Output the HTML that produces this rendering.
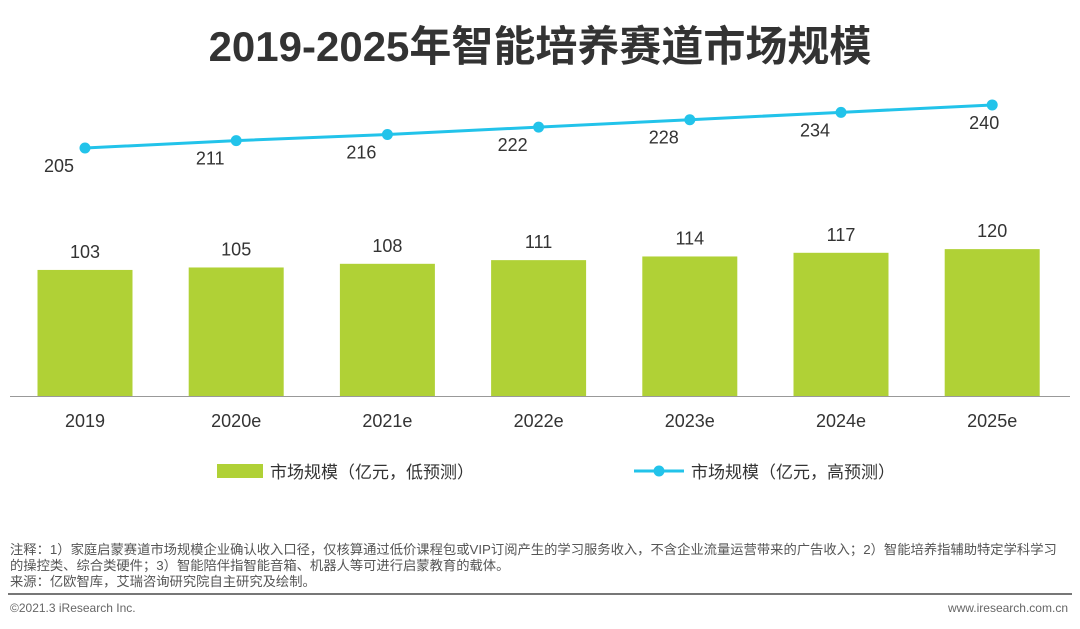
<!DOCTYPE html>
<html><head><meta charset="utf-8"><style>
body{margin:0;width:1080px;height:629px;background:#fff;font-family:"Liberation Sans","Noto Sans CJK SC",sans-serif;overflow:hidden;position:relative}
.t{position:absolute;white-space:nowrap}
</style></head><body>
<div class="t" style="left:0;width:1080px;text-align:center;top:13px;font-size:42px;font-weight:bold;color:#333">2019-2025年智能培养赛道市场规模</div>
<svg id="c" width="1080" height="500" style="position:absolute;left:0;top:0"></svg>
<div class="t" style="left:10px;top:542px;font-size:13.3px;line-height:16px;color:#555">注释：1）家庭启蒙赛道市场规模企业确认收入口径，仅核算通过低价课程包或VIP订阅产生的学习服务收入，不含企业流量运营带来的广告收入；2）智能培养指辅助特定学科学习<br>的操控类、综合类硬件；3）智能陪伴指智能音箱、机器人等可进行启蒙教育的载体。<br>来源：亿欧智库，艾瑞咨询研究院自主研究及绘制。</div>
<div style="position:absolute;left:8px;top:593px;width:1064px;height:2px;background:#777"></div>
<div class="t" style="left:10px;top:601px;font-size:12px;color:#666">©2021.3 iResearch Inc.</div>
<div class="t" style="right:12px;top:601px;font-size:12px;color:#666">www.iresearch.com.cn</div>
<script>
const categories=["2019","2020e","2021e","2022e","2023e","2024e","2025e"];
const lowValues=[103,105,108,111,114,117,120];
const highValues=[205,211,216,222,228,234,240];
const svg=document.getElementById('c');const NS='http://www.w3.org/2000/svg';
function mk(t,a,txt){const e=document.createElementNS(NS,t);for(const k in a)e.setAttribute(k,a[k]);if(txt!==undefined)e.textContent=txt;svg.appendChild(e);return e;}
const xC=i=>85+i*151.2;
const yBar=v=>396-v*1.224;
const yLine=v=>148-(v-205)*1.23;
categories.forEach((c,i)=>{
 const r=mk('rect',{x:xC(i)-47.5,y:yBar(lowValues[i]),width:95,height:396-yBar(lowValues[i]),fill:'#b0d136'});
 
 
 const l=mk('text',{x:xC(i),y:yBar(lowValues[i])-12,'text-anchor':'middle','font-size':18,fill:'#333'},lowValues[i]);
 
 
 const xl=mk('text',{x:xC(i),y:427,'text-anchor':'middle','font-size':18,fill:'#333'},c);
 
 
});
const ax=mk('line',{x1:10,x2:1070,y1:396.5,y2:396.5,stroke:'#999','stroke-width':1});


const pl=mk('polyline',{points:highValues.map((v,i)=>xC(i)+','+yLine(v)).join(' '),fill:'none',stroke:'#22c3ea','stroke-width':3});


highValues.forEach((v,i)=>{
 const p=mk('circle',{cx:xC(i),cy:yLine(v),r:5.5,fill:'#22c3ea'});
 
 
 const t=mk('text',{x:xC(i)-26,y:yLine(v)+24,'text-anchor':'middle','font-size':18,fill:'#333'},v);
 if(i===6)t.setAttribute('x',xC(i)-8);
 
 
});
const lg1=mk('rect',{x:217,y:464,width:46,height:14,fill:'#b0d136'});


const lt1=mk('text',{x:270,y:478,'font-size':17,fill:'#333'},'市场规模（亿元，低预测）');


const lg2=mk('line',{x1:634,x2:684,y1:471,y2:471,stroke:'#22c3ea','stroke-width':3});


const lg3=mk('circle',{cx:659,cy:471,r:5.5,fill:'#22c3ea'});


const lt2=mk('text',{x:691,y:478,'font-size':17,fill:'#333'},'市场规模（亿元，高预测）');


</script>
</body></html>
